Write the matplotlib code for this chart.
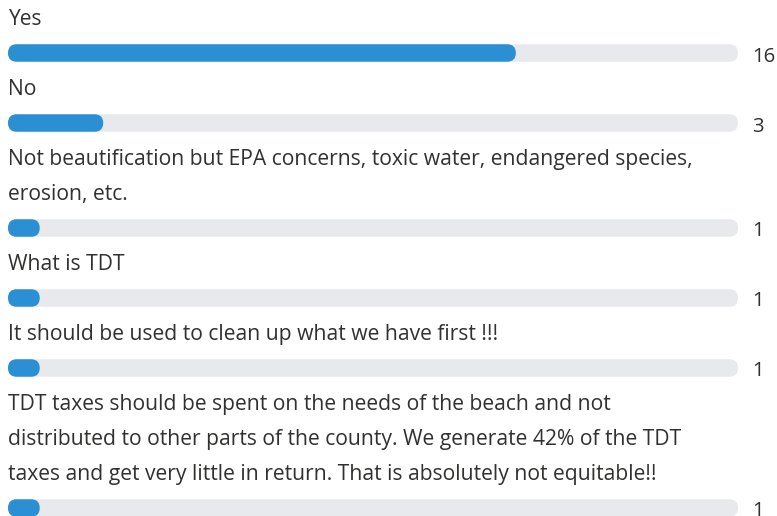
import matplotlib
matplotlib.use("Agg")
import matplotlib.pyplot as plt
from matplotlib.patches import FancyBboxPatch

# poll answers (label text already wrapped as shown) and response counts
answers = [
    "Yes",
    "No",
    "Not beautification but EPA concerns, toxic water, endangered species,\nerosion, etc.",
    "What is TDT",
    "It should be used to clean up what we have first !!!",
    "TDT taxes should be spent on the needs of the beach and not\n"
    "distributed to other parts of the county. We generate 42% of the TDT\n"
    "taxes and get very little in return. That is absolutely not equitable!!",
]
counts = [16, 3, 1, 1, 1, 1]

W, H = 777, 516
BLUE = "#2B8FD4"
TRACK = "#E7E9EC"
TEXT = "#323130"

plt.rcParams["font.family"] = ["Open Sans", "DejaVu Sans"]

fig = plt.figure(figsize=(W / 100, H / 100), dpi=100)
ax = fig.add_axes([0, 0, 1, 1])
ax.set_xlim(0, W)
ax.set_ylim(H, 0)
ax.axis("off")

total = sum(counts)
x0, track_w, bar_h = 8, 730, 17.5
step = 35      # vertical rhythm: text line -> text line -> bar
fs = 15.2
y = 18         # centre of first text line

for label, n in zip(answers, counts):
    lines = label.split("\n")
    for i, ln in enumerate(lines):
        ax.text(x0, y + i * step + 7, ln, fontsize=fs, color=TEXT,
                ha="left", va="baseline")
    yb = y + len(lines) * step
    rs = f"round,pad=0,rounding_size={bar_h / 2}"
    ax.add_patch(FancyBboxPatch((x0, yb - bar_h / 2), track_w, bar_h,
                                boxstyle=rs, fc=TRACK, ec="none"))
    ax.add_patch(FancyBboxPatch((x0, yb - bar_h / 2), track_w * n / total, bar_h,
                                boxstyle=rs, fc=BLUE, ec="none"))
    ax.text(752, yb + 8.5, str(n), fontsize=fs - 0.5, color=TEXT,
            ha="left", va="baseline")
    y = yb + step

fig.savefig("out.png", dpi=100, facecolor="white")
